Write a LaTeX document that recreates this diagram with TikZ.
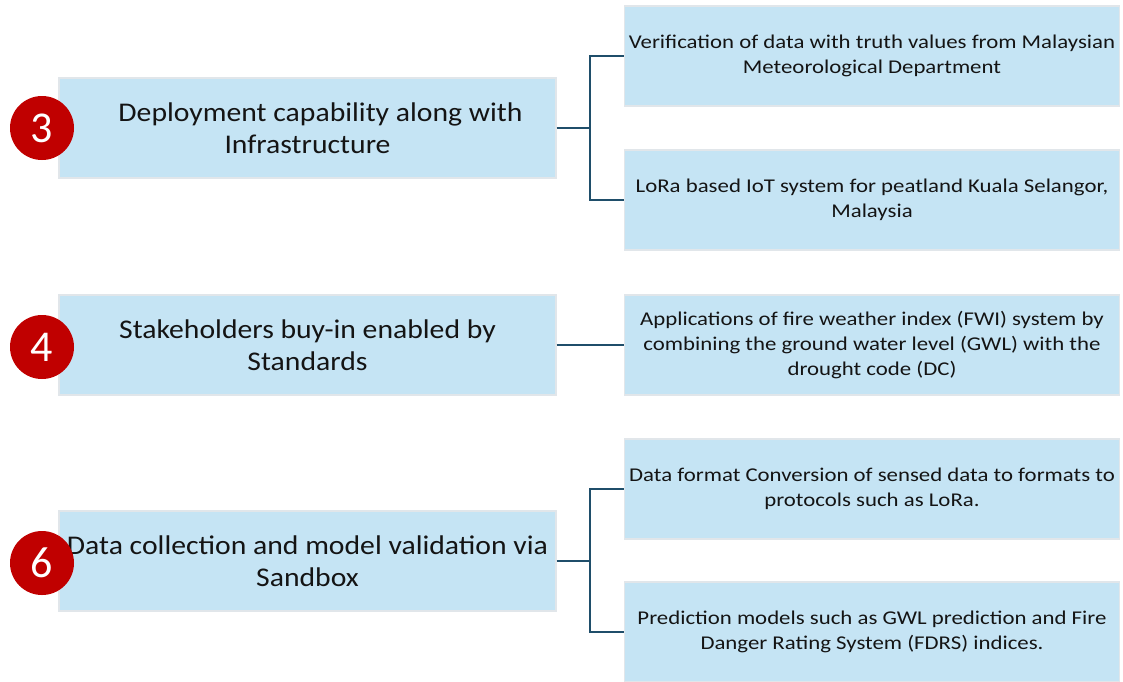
\documentclass[tikz,border=0pt]{standalone}
\usepackage{fontspec}
\setmainfont{Carlito}
\newfontfamily\leftfont[FakeStretch=1.10]{Carlito}
\newfontfamily\rightfont[FakeStretch=1.17]{Carlito}
\definecolor{boxfill}{RGB}{197,228,244}
\definecolor{boxline}{RGB}{225,230,234}
\definecolor{badge}{RGB}{192,0,0}
\definecolor{conn}{RGB}{31,78,106}
\definecolor{txt}{RGB}{20,20,20}
\begin{document}
\begin{tikzpicture}[x=1pt,y=-1pt,
  leftbox/.style={rectangle,fill=boxfill,draw=boxline,line width=1.2pt,minimum width=497pt,minimum height=100pt,align=center,text=txt,font=\leftfont\fontsize{27}{32}\selectfont,inner sep=0pt},
  rightbox/.style={rectangle,fill=boxfill,draw=boxline,line width=1.2pt,minimum width=495pt,minimum height=100pt,align=center,text=txt,font=\rightfont\fontsize{19.5}{25}\selectfont,inner sep=0pt},
  badgenode/.style={circle,fill=badge,minimum size=64pt,inner sep=0pt,text=white,font=\fontsize{44}{44}\selectfont},
  link/.style={draw=conn,line width=1.6pt}]
\useasboundingbox (0,0) rectangle (1123,681);
% left boxes
\node[leftbox] (l3) at (307.5,128) {\hspace*{26pt}Deployment capability along with\\Infrastructure};
\node[leftbox] (l4) at (307.5,345) {Stakeholders buy-in enabled by\\Standards};
\node[leftbox] (l6) at (307.5,561) {Data collection and model validation via\\Sandbox};
% badges
\node[badgenode] (b3) at (42,128) {3};
\node[badgenode] (b4) at (42,347) {4};
\node[badgenode] (b6) at (42,563) {6};
% right boxes
\node[rightbox] (r1) at (872,56) {Verification of data with truth values from Malaysian\\Meteorological Department};
\node[rightbox] (r2) at (872,200) {LoRa based IoT system for peatland Kuala Selangor,\\Malaysia};
\node[rightbox] (r3) at (872,345) {Applications of fire weather index (FWI) system by\\combining the ground water level (GWL) with the\\drought code (DC)};
\node[rightbox] (r4) at (872,489) {Data format Conversion of sensed data to formats to\\protocols such as LoRa.};
\node[rightbox] (r5) at (872,632) {Prediction models such as GWL prediction and Fire\\Danger Rating System (FDRS) indices.};
% connectors
\coordinate (j3) at (590,128);
\coordinate (j6) at (590,561);
\draw[link] (l3.east) -- (j3);
\draw[link] (r1.west) -| (j3) |- (r2.west);
\draw[link] (l4.east) -- (r3.west);
\draw[link] (l6.east) -- (j6);
\draw[link] (r4.west) -| (j6) |- (r5.west);
\end{tikzpicture}
\end{document}
